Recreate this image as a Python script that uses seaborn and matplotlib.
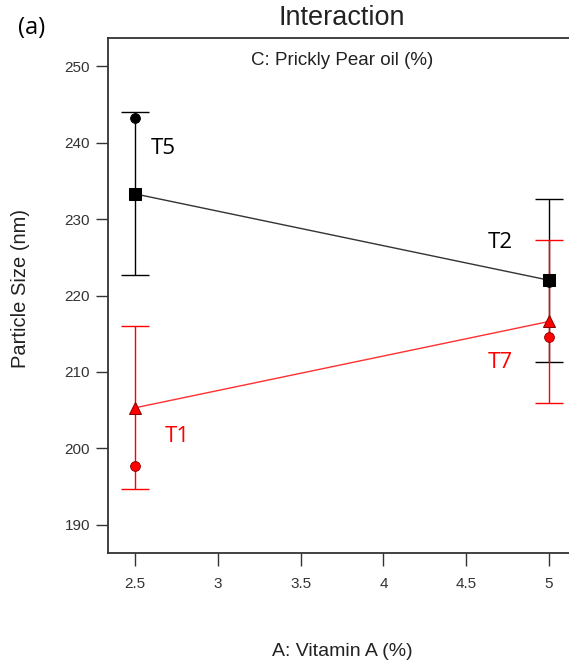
import matplotlib
matplotlib.use("Agg")
import matplotlib.pyplot as plt
import seaborn as sns
import pandas as pd

# Vitamin A levels (factor A)
vitamin_a = [2.5, 5.0]

# Predicted particle size at the two prickly pear oil levels
pred_high = [233.3, 222.0]   # black line, square markers
pred_low = [205.3, 216.6]    # red line, triangle markers
# 95% LSD half-widths of the prediction
lsd_high = [10.65, 10.65]
lsd_low = [10.65, 10.65]

# Observed design points
obs_high = [243.2, 221.8]
obs_low = [197.7, 214.6]

# Point labels
labels_high = ["T5", "T2"]
labels_low = ["T1", "T7"]

y_ticks = [190, 200, 210, 220, 230, 240, 250]
x_ticks = [2.5, 3, 3.5, 4, 4.5, 5]

sns.set_theme(style="white")
plt.rcParams["font.family"] = ["Liberation Sans", "DejaVu Sans"]

fig = plt.figure(figsize=(5.69, 6.67), dpi=100)
ax = fig.add_axes([108 / 569, 114 / 667, 468 / 569, 515 / 667])

df_high = pd.DataFrame({"A": vitamin_a, "size": pred_high})
df_low = pd.DataFrame({"A": vitamin_a, "size": pred_low})

# Error bars
ax.errorbar(vitamin_a, pred_high, yerr=lsd_high, fmt="none", ecolor="black",
            elinewidth=1.0, capsize=10, capthick=1.0, zorder=2)
ax.errorbar(vitamin_a, pred_low, yerr=lsd_low, fmt="none", ecolor="red",
            elinewidth=1.0, capsize=10, capthick=1.0, zorder=3)

# Prediction lines
sns.lineplot(data=df_high, x="A", y="size", ax=ax, color="#333333", linewidth=1.0,
             marker="s", markersize=9, markerfacecolor="black",
             markeredgecolor="black", zorder=4)
sns.lineplot(data=df_low, x="A", y="size", ax=ax, color="#ff3030", linewidth=1.0,
             marker="^", markersize=9, markerfacecolor="red",
             markeredgecolor="#8b0000", zorder=5)

# Observed points
sns.scatterplot(x=vitamin_a, y=obs_high, ax=ax, color="black", s=50,
                edgecolor="black", linewidth=0.6, zorder=6)
sns.scatterplot(x=vitamin_a, y=obs_low, ax=ax, color="red", s=50,
                edgecolor="#8b0000", linewidth=0.6, zorder=6)

# Treatment labels
calib = ["Open Sans", "DejaVu Sans"]
ax.text(2.669, 239.3, labels_high[0], fontsize=16, color="black", family=calib,
        ha="center", va="center")
ax.text(4.704, 226.9, labels_high[1], fontsize=16, color="black", family=calib,
        ha="center", va="center")
ax.text(2.754, 201.5, labels_low[0], fontsize=16, color="red", family=calib,
        ha="center", va="center")
ax.text(4.704, 211.2, labels_low[1], fontsize=16, color="red", family=calib,
        ha="center", va="center")

ax.set_xlim(2.337, 5.163)
ax.set_ylim(186.3, 253.7)
ax.set_xticks(x_ticks)
ax.set_xticklabels(["2.5", "3", "3.5", "4", "4.5", "5"])
ax.set_yticks(y_ticks)

for side in ["left", "bottom", "top", "right"]:
    ax.spines[side].set_visible(True)
    ax.spines[side].set_color("#333333")
    ax.spines[side].set_linewidth(1.3)

ax.tick_params(axis="both", direction="out", length=9, width=1.0, color="#333333",
               labelsize=11, labelcolor="#333333", left=True, bottom=True, pad=4)
ax.tick_params(axis="x", pad=8)

ax.set_xlabel("A: Vitamin A (%)", fontsize=14, color="#222222")
ax.xaxis.set_label_coords(0.5, (553 - 651) / 515)
ax.xaxis.label.set_va("center")
ax.set_ylabel("Particle Size (nm)", fontsize=14.5, color="#222222")
ax.yaxis.set_label_coords((21 - 108) / 468, 0.5 + (300 - 293) / 515)
ax.yaxis.label.set_va("center")

ax.text(0.5, 0.972, "C: Prickly Pear oil (%)", transform=ax.transAxes,
        ha="center", va="top", fontsize=13.5, color="#222222")
fig.text(342 / 569, 1 - 18 / 667, "Interaction", ha="center", va="center",
         fontsize=19.5, color="#222222")
fig.text(18 / 569, 1 - 28 / 667, "(a)", ha="left", va="center",
         fontsize=17, color="black", family=calib)

fig.savefig("out.png", dpi=100)
